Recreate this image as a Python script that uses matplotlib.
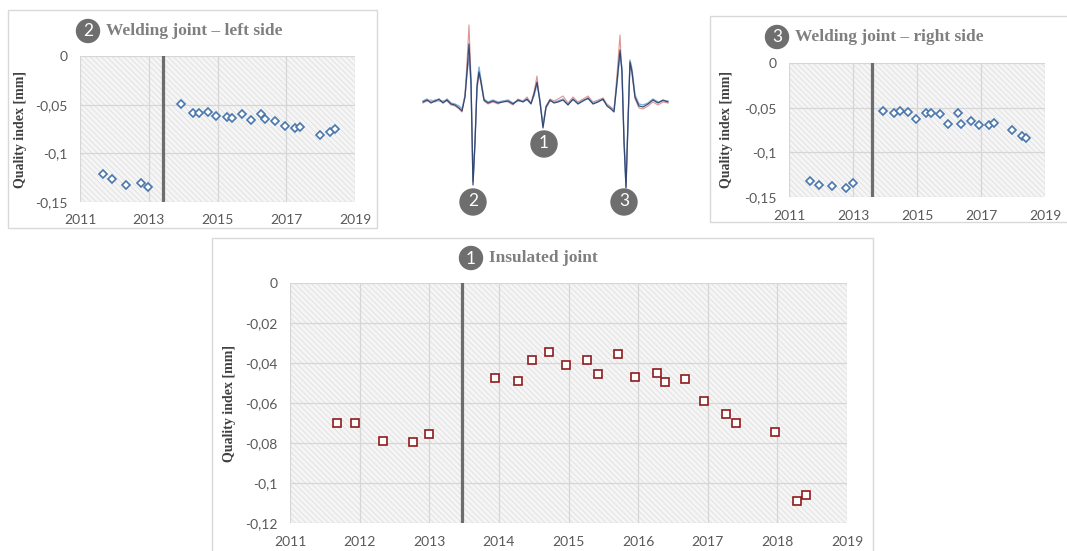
import numpy as np
import matplotlib
matplotlib.use("Agg")
import matplotlib.pyplot as plt
from matplotlib.patches import Rectangle, Circle
from matplotlib.ticker import FuncFormatter, MultipleLocator

# --- data ---
dates = [2011.67, 2011.93, 2012.34, 2012.77, 2012.99, 2013.95, 2014.28, 2014.47,
         2014.72, 2014.96, 2015.27, 2015.43, 2015.71, 2015.96, 2016.27, 2016.39,
         2016.68, 2016.95, 2017.26, 2017.41, 2017.97, 2018.28, 2018.41]

insulated = [-0.070, -0.070, -0.079, -0.0795, -0.0757, -0.0473, -0.049, -0.0387,
             -0.0347, -0.041, -0.0387, -0.0453, -0.0357, -0.0468, -0.045, -0.0493,
             -0.048, -0.0588, -0.0655, -0.0698, -0.0743, -0.109, -0.1062]

weld_left = [-0.1213, -0.1268, -0.1329, -0.1302, -0.1343, -0.0497, -0.0586, -0.0586,
             -0.0572, -0.062, -0.0627, -0.064, -0.060, -0.0658, -0.0596, -0.0644,
             -0.0668, -0.0716, -0.0743, -0.0727, -0.0808, -0.0784, -0.0747]

weld_right = [-0.1325, -0.1362, -0.1377, -0.140, -0.1343, -0.0541, -0.0563, -0.0541,
              -0.0545, -0.0623, -0.0563, -0.056, -0.0575, -0.0683, -0.0563, -0.0683,
              -0.0649, -0.0694, -0.0698, -0.0668, -0.075, -0.0813, -0.0843]

change_left = 2013.42
change_right = 2013.6
change_insulated = 2013.47

# illustration: measured signal traces (sample, amplitude)
wave_t = [0, 4, 8, 12, 16, 20, 24, 28, 32, 36, 39, 42, 44, 46, 48, 50, 52, 54, 56, 58,
          61, 65, 70, 75, 80, 85, 90, 95, 100, 104, 108, 111, 114, 117, 120, 123, 127,
          131, 135, 140, 145, 150, 155, 160, 165, 170, 175, 180, 184, 188, 191, 194,
          197, 199, 201, 203, 205, 207, 209, 212, 216, 220, 225, 230, 235, 240, 245]
wave_navy = [0, 2, -1, 1, 3, -1, 2, -2, -3, -6, -9, 5, 30, 58, 20, -83, -40, 15, 30, 20,
             2, -1, 1, -1, 0, 1, -2, 2, 0, 3, -2, 8, 20, 0, -26, -5, 2,
             -1, 0, 2, -3, 3, -2, 1, 4, -2, 0, 3, -4, -7, -10, 20,
             52, 30, -40, -86, -20, 40, 30, 5, -4, -5, -2, 2, -1, 2, 0]
wave_blue = [1, 3, 0, 2, 1, 0, 3, -1, -2, -4, -7, 6, 28, 45, 18, -80, -42, 18, 35, 22,
             3, 0, 2, 0, 1, 2, -1, 1, 1, 2, -1, 6, 18, 2, -24, -6, 1,
             0, 1, 3, -2, 2, -1, 2, 3, -1, 1, 2, -3, -6, -8, 18,
             48, 34, -38, -85, -22, 42, 33, 7, -2, -3, -1, 3, 0, 1, 1]
wave_red = [-1, 1, 2, 0, 2, 1, 1, -3, -4, -7, -10, 8, 40, 77, 25, -78, -38, 12, 28, 18,
            1, -2, 0, -2, 1, 0, -3, 3, 1, 5, -1, 10, 26, -2, -22, -4, 3,
            1, 3, 6, -1, 5, 0, 3, 6, 0, 2, 4, -2, -5, -8, 28,
            67, 25, -35, -80, -18, 36, 28, 3, -6, -7, -4, 0, -3, 0, -1]

# --- figure geometry in pixels ---
W, H = 1067, 551
plt.rcParams["hatch.linewidth"] = 0.5

fig = plt.figure(figsize=(W / 100, H / 100), dpi=100)


def px_rect(x0, y0, x1, y1):
    return [x0 / W, 1 - y1 / H, (x1 - x0) / W, (y1 - y0) / H]


bg = fig.add_axes([0, 0, 1, 1], zorder=0)
bg.set_xlim(0, W)
bg.set_ylim(H, 0)
bg.axis("off")

border = "#d9d9d9"
bg.add_patch(Rectangle((8, 10), 369, 218, facecolor="white", edgecolor=border, lw=1))
bg.add_patch(Rectangle((710, 16), 380, 206, facecolor="white", edgecolor=border, lw=1))
bg.add_patch(Rectangle((212, 238), 661, 340, facecolor="white", edgecolor=border, lw=1))

circle_col = "#6e6e6e"
title_col = "#7f7f7f"
tick_col = "#595959"
serif = "Liberation Serif"
sans = "Lato"


def badge(ax, x, y, label, r=11.5):
    ax.add_patch(Circle((x, y), r, color=circle_col, zorder=5))
    ax.text(x, y + 0.5, label, color="white", ha="center", va="center",
            fontsize=12.5, family=sans, zorder=6)


def title(x_circle, y, num, text):
    badge(bg, x_circle, y, num)
    bg.text(x_circle + 18, y, text, color=title_col, ha="left", va="center",
            fontsize=12.5, family=serif, fontweight="bold")


title(88, 31, "2", "Welding joint \u2013 left side")
title(777, 37, "3", "Welding joint \u2013 right side")
title(471, 258, "1", "Insulated joint")


def fmt(v, pos):
    if abs(v) < 1e-12:
        return "0"
    return f"{v:g}".replace(".", ",")


def panel(rect, x, y, ylim, ystep, xstep, change, marker, ms, color, ylab_x):
    ax = fig.add_axes(rect, zorder=1)
    ax.patch.set_facecolor("#f5f5f5")
    ax.patch.set_edgecolor("#dcdcdc")
    ax.patch.set_linewidth(0)
    ax.patch.set_hatch("\\" * 6)
    ax.set_xlim(2011, 2019)
    ax.set_ylim(*ylim)
    ax.set_xticks(np.arange(2011, 2019.5, xstep))
    ax.yaxis.set_major_locator(MultipleLocator(ystep))
    ax.yaxis.set_major_formatter(FuncFormatter(fmt))
    ax.grid(True, color="#d6d6d6", lw=0.9)
    ax.set_axisbelow(True)
    for s in ax.spines.values():
        s.set_visible(False)
    ax.tick_params(length=0, colors=tick_col, labelsize=10, pad=9)
    for lab in ax.get_xticklabels() + ax.get_yticklabels():
        lab.set_family(sans)
    ax.axvline(change, color="#6d6d6d", lw=2.3, zorder=3)
    ax.plot(x, y, ls="none", marker=marker, ms=ms, mfc="white", mec=color,
            mew=1.2, zorder=4, clip_on=False)
    ax.set_ylabel("Quality index [mm]", family=serif, fontweight="bold",
                  fontsize=10, color="#404040")
    ax.yaxis.set_label_coords(ylab_x, 0.5)
    return ax


blue = "#4a76ae"
red = "#8e1b1b"
panel(px_rect(80, 56, 355, 202), dates, weld_left, (-0.15, 0), 0.05, 2,
      change_left, "D", 4.3, blue, (27 - 80) / 275)
panel(px_rect(789, 63, 1045, 197), dates, weld_right, (-0.15, 0), 0.05, 2,
      change_right, "D", 4.3, blue, (733 - 789) / 256)
panel(px_rect(290, 283, 847, 523), dates, insulated, (-0.12, 0), 0.02, 1,
      change_insulated, "s", 5.5, red, (236 - 290) / 557)

# --- centre illustration ---
wv = fig.add_axes(px_rect(400, 0, 710, 235), zorder=2)
wv.set_xlim(-23, 287)
wv.set_ylim(-133, 102)
wv.axis("off")
wv.plot(wave_t, wave_red, color="#d98a88", lw=0.8, alpha=0.9)
wv.plot(wave_t, wave_blue, color="#7fb2da", lw=1.0)
wv.plot(wave_t, wave_navy, color="#2c3a66", lw=0.9, alpha=0.9)
badge(wv, 121, -42, "1", r=13)
badge(wv, 50, -100, "2", r=13)
badge(wv, 201, -100, "3", r=13)

fig.savefig("out.png", dpi=100)
